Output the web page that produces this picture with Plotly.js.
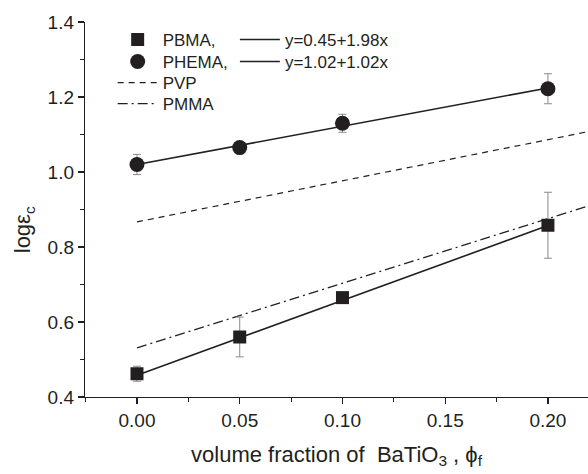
<!DOCTYPE html>
<html><head><meta charset="utf-8">
<script src="https://cdn.plot.ly/plotly-3.0.1.min.js"></script>
<style>html,body{margin:0;padding:0;background:#fff}#c{width:588px;height:474px}</style>
</head><body><div id="c"></div>
<script>
const phi = [0.00, 0.05, 0.10, 0.20];
const pbma = [0.462, 0.560, 0.665, 0.858];
const pbmaErr = [0.020, 0.053, 0.010, 0.088];
const phema = [1.020, 1.065, 1.130, 1.222];
const phemaErr = [0.027, 0.006, 0.024, 0.040];
const fitX = [0.00, 0.20];
const pbmaFit = [0.458, 0.857];
const phemaFit = [1.020, 1.224];
const refX = [0.00, 0.22];
const pvp = [0.867, 1.108];
const pmma = [0.531, 0.910];
const xTicks = [0.00, 0.05, 0.10, 0.15, 0.20];
const xTickText = ['0.00', '0.05', '0.10', '0.15', '0.20'];
const yTicks = [0.4, 0.6, 0.8, 1.0, 1.2, 1.4];
const yTickText = ['0.4', '0.6', '0.8', '1.0', '1.2', '1.4'];

const F = 'Liberation Sans, Arial, sans-serif';
const ink = '#231f20';
const errStyle = {type: 'data', visible: true, color: '#8a8a8a', thickness: 1, width: 4};

const traces = [
  {x: fitX, y: pbmaFit, mode: 'lines', line: {color: ink, width: 1.6}, name: 'y=0.45+1.98x', legend: 'legend5'},
  {x: fitX, y: phemaFit, mode: 'lines', line: {color: ink, width: 1.6}, name: 'y=1.02+1.02x', legend: 'legend6'},
  {x: refX, y: pvp, mode: 'lines', line: {color: ink, width: 1.2, dash: '6px,5px'}, name: 'PVP', legend: 'legend3'},
  {x: refX, y: pmma, mode: 'lines', line: {color: ink, width: 1.2, dash: '10px,4px,2px,4px'}, name: 'PMMA', legend: 'legend4'},
  {x: phi, y: pbma, mode: 'markers', marker: {symbol: 'square', size: 13, color: ink},
   error_y: Object.assign({array: pbmaErr}, errStyle), name: 'PBMA,', legend: 'legend'},
  {x: phi, y: phema, mode: 'markers', marker: {symbol: 'circle', size: 15, color: ink},
   error_y: Object.assign({array: phemaErr}, errStyle), name: 'PHEMA,', legend: 'legend2'}
];

const axisCommon = {
  showline: true, linecolor: ink, linewidth: 1.2, ticks: 'outside', ticklen: 6, tickwidth: 1.2,
  tickcolor: ink, showgrid: false, zeroline: false, mirror: false,
  tickfont: {family: F, size: 19, color: ink}
};

function leg(x, py) {
  return {x: x, y: (397 - py) / 375, xanchor: 'left', yanchor: 'middle', bgcolor: 'rgba(0,0,0,0)',
    font: {family: F, size: 17, color: ink}, itemwidth: 40, tracegroupgap: 0};
}

const layout = {
  width: 588, height: 474,
  margin: {l: 85, r: 0, t: 22, b: 77},
  paper_bgcolor: '#fff', plot_bgcolor: '#fff',
  showlegend: true,
  xaxis: Object.assign({}, axisCommon, {
    range: [-0.0253, 0.2195], tickmode: 'array', tickvals: xTicks, ticktext: xTickText,
    minor: {dtick: 0.025, tick0: 0, ticks: 'outside', ticklen: 4, tickcolor: ink, tickwidth: 1},
    title: {text: 'volume fraction of  BaTiO<sub>3</sub> , ϕ<sub>f</sub>', font: {family: F, size: 22, color: ink}, standoff: 16}
  }),
  yaxis: Object.assign({}, axisCommon, {
    range: [0.4, 1.4], tickmode: 'array', tickvals: yTicks, ticktext: yTickText,
    minor: {dtick: 0.1, tick0: 0.4, ticks: 'outside', ticklen: 4, tickcolor: ink, tickwidth: 1}
  }),
  annotations: [{
    text: 'logε<sub>c</sub>', xref: 'paper', yref: 'paper', x: -0.121, y: 0.445,
    xanchor: 'center', yanchor: 'middle', textangle: -90, showarrow: false,
    font: {family: F, size: 22, color: ink}
  }],
  legend: leg(0.055, 40),
  legend2: leg(0.055, 62),
  legend3: leg(0.055, 83),
  legend4: leg(0.055, 104),
  legend5: leg(0.298, 40),
  legend6: leg(0.298, 62)
};

Plotly.newPlot('c', traces, layout, {displayModeBar: false, staticPlot: true});
</script>
</body></html>
